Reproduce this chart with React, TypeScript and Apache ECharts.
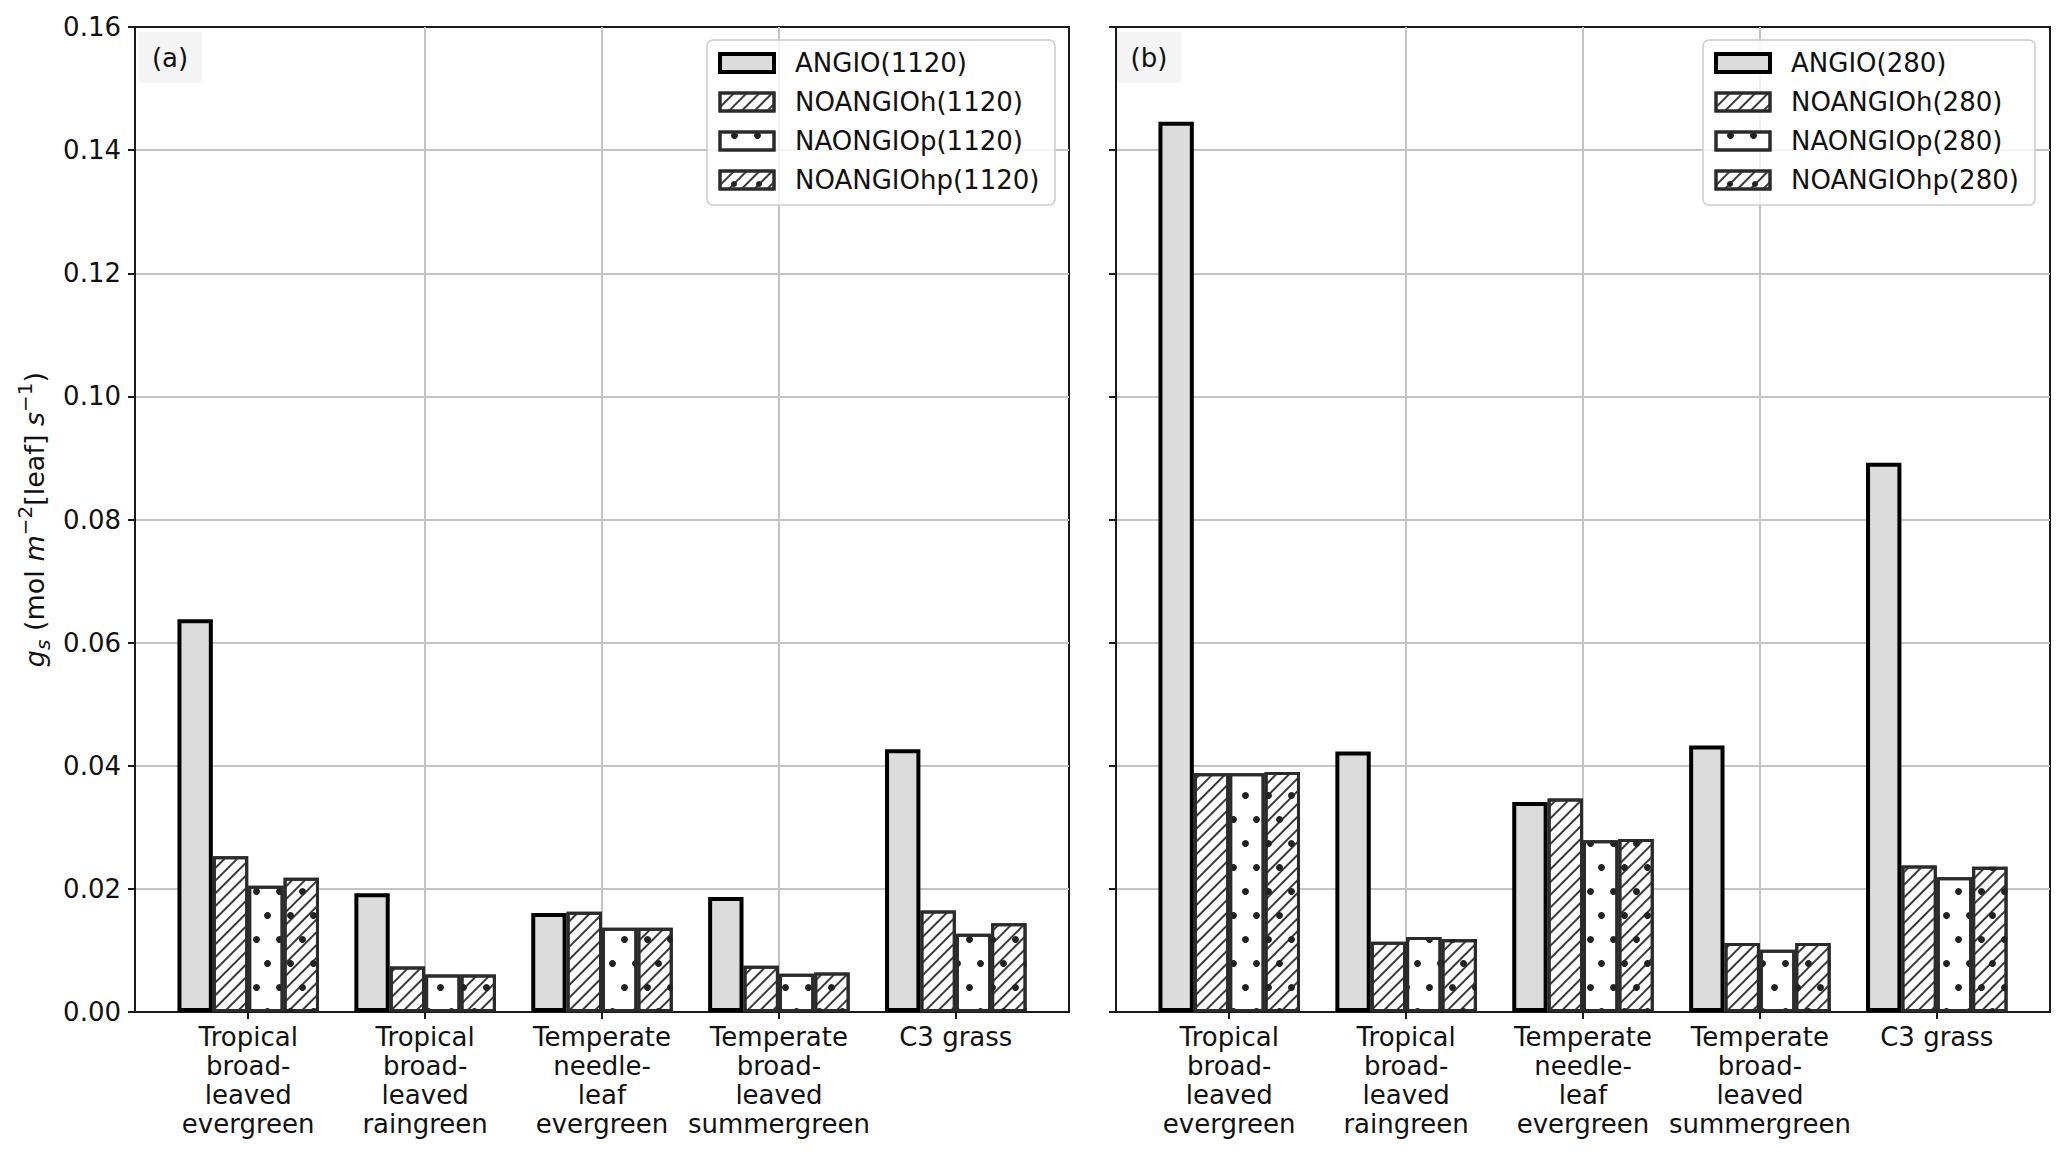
import React, { useEffect, useRef } from 'react';
import * as echarts from 'echarts';

// ---------- data ----------
const categories = [
  'Tropical\nbroad-\nleaved\nevergreen',
  'Tropical\nbroad-\nleaved\nraingreen',
  'Temperate\nneedle-\nleaf\nevergreen',
  'Temperate\nbroad-\nleaved\nsummergreen',
  'C3 grass',
];
const categoryPositions = [0, 1, 2, 3, 4];

const seriesNamesA = ['ANGIO(1120)', 'NOANGIOh(1120)', 'NAONGIOp(1120)', 'NOANGIOhp(1120)'];
const seriesNamesB = ['ANGIO(280)', 'NOANGIOh(280)', 'NAONGIOp(280)', 'NOANGIOhp(280)'];

// panel (a) — 1120 ppm
const angioA = [0.0638, 0.0193, 0.0161, 0.0187, 0.0427];
const hA = [0.0253, 0.0074, 0.0163, 0.0075, 0.0165];
const pA = [0.0205, 0.0061, 0.0137, 0.0062, 0.0127];
const hpA = [0.0218, 0.0061, 0.0137, 0.0064, 0.0144];

// panel (b) — 280 ppm
const angioB = [0.1446, 0.0423, 0.0341, 0.0433, 0.0892];
const hB = [0.0388, 0.0114, 0.0347, 0.0112, 0.0238];
const pB = [0.0388, 0.0122, 0.0279, 0.0101, 0.0219];
const hpB = [0.039, 0.0118, 0.0281, 0.0112, 0.0236];

const yMin = 0;
const yMax = 0.16;
const yStep = 0.02;

// ---------- styles ----------
const FONT = 'DejaVu Sans';
const FRAME = '#1a1a1a';
const GRIDLINE = '#c4c4c4';

const hatchDecal = {
  symbol: 'rect',
  symbolSize: 1,
  dashArrayX: [1, 0],
  dashArrayY: [2, 7],
  rotation: -Math.PI / 4,
  color: '#3a3a3a',
};
const dotDecal = {
  symbol: 'circle',
  symbolSize: 1,
  dashArrayX: [[7, 16], [0, 11, 7, 5]],
  dashArrayY: [7, 17],
  rotation: 0,
  color: '#222',
};

const angioStyle = { color: '#dcdcdc', borderColor: '#000', borderWidth: 4 };
const hStyle = { color: '#fff', borderColor: '#2b2b2b', borderWidth: 3, decal: hatchDecal };
const pStyle = { color: '#fff', borderColor: '#2b2b2b', borderWidth: 3, decal: dotDecal };
const hpStyle = { color: '#fff', borderColor: '#2b2b2b', borderWidth: 3, decal: hatchDecal };
const ghostStyle = { color: 'rgba(0,0,0,0)', borderWidth: 0 };
const hpDotsStyle = { color: 'rgba(0,0,0,0)', borderWidth: 0, decal: dotDecal };

const grids = [
  { left: 135, top: 27, width: 934, height: 985 },
  { left: 1116, top: 27, width: 934, height: 985 },
];

function bar(name: string, values: number[], axisIdx: number, yIdx: number, itemStyle: any, z = 2) {
  return {
    type: 'bar',
    name,
    xAxisIndex: axisIdx,
    yAxisIndex: yIdx,
    barWidth: '20%',
    barGap: '0%',
    z,
    silent: true,
    emphasis: { disabled: true },
    itemStyle,
    data: values.map((v, i) => [categoryPositions[i], v]),
  };
}

function xAxis(gridIndex: number, visible: boolean) {
  return {
    type: 'value',
    gridIndex,
    min: -0.64,
    max: 4.64,
    show: visible,
    axisLine: { show: true, onZero: false, lineStyle: { color: FRAME, width: 2 } },
    axisTick: {
      show: true,
      customValues: categoryPositions,
      length: 7,
      lineStyle: { color: FRAME, width: 2 },
    },
    axisLabel: {
      customValues: categoryPositions,
      formatter: (v: number) => {
        const i = categoryPositions.indexOf(v);
        return i >= 0 ? categories[i] : '';
      },
      fontSize: 26,
      lineHeight: 29,
      color: '#111',
      fontFamily: FONT,
      margin: 10,
    },
    splitLine: {
      show: visible,
      showMinLine: false,
      showMaxLine: false,
      lineStyle: { color: GRIDLINE, width: 2 },
    },
  };
}

function yAxis(gridIndex: number) {
  const ax: any = {
    type: 'value',
    gridIndex,
    min: yMin,
    max: yMax,
    interval: yStep,
    axisLine: { show: true, onZero: false, lineStyle: { color: FRAME, width: 2 } },
    axisTick: { show: true, length: 7, lineStyle: { color: FRAME, width: 2 } },
    axisLabel: {
      show: gridIndex === 0,
      formatter: (v: number) => v.toFixed(2),
      fontSize: 26,
      color: '#111',
      fontFamily: FONT,
      margin: 14,
    },
    splitLine: {
      show: true,
      showMinLine: false,
      showMaxLine: false,
      lineStyle: { color: GRIDLINE, width: 2 },
    },
  };
  if (gridIndex === 0) {
    ax.name = '{it|g}{sub|s} (mol {it|m}{sup|−2}[leaf] {it|s}{sup|−1})';
    ax.nameLocation = 'middle';
    ax.nameRotate = 90;
    ax.nameGap = 82;
    ax.nameMoveOverlap = false;
    ax.nameTextStyle = {
      fontSize: 27,
      fontFamily: FONT,
      color: '#111',
      lineHeight: 38,
      rich: {
        it: { fontSize: 27, fontStyle: 'italic', fontFamily: FONT, color: '#111', lineHeight: 38 },
        sub: { fontSize: 20, fontStyle: 'italic', fontFamily: FONT, color: '#111', verticalAlign: 'bottom', lineHeight: 24 },
        sup: { fontSize: 20, fontFamily: FONT, color: '#111', verticalAlign: 'top', lineHeight: 24 },
      },
    };
  }
  return ax;
}

function legend(names: string[], left: number) {
  return {
    left,
    top: 50,
    orient: 'vertical',
    icon: 'rect',
    itemWidth: 54,
    itemHeight: 18,
    itemGap: 13,
    padding: 0,
    z: 20,
    selectedMode: false,
    textStyle: { fontSize: 26, fontFamily: FONT, color: '#111', padding: [0, 0, 0, 16] },
    data: names.map((n, i) => ({
      name: n,
      itemStyle: i === 0 ? { borderWidth: 4, borderColor: '#000' } : { borderWidth: 3, borderColor: '#2b2b2b' },
    })),
  };
}

// small dots completing the hatched+dotted legend swatch
function legendDots(xs: number[], y: number) {
  return xs.map((x) => ({
    type: 'circle',
    z: 30,
    shape: { cx: x, cy: y, r: 3 },
    style: { fill: '#222' },
  }));
}

function buildOption() {
  return {
    animation: false,
    backgroundColor: '#fff',
    textStyle: { fontFamily: FONT },
    grid: grids.map((g) => ({
      ...g,
      show: true,
      borderColor: FRAME,
      borderWidth: 2,
      backgroundColor: 'transparent',
      outerBoundsMode: 'none',
      containLabel: false,
    })),
    xAxis: [xAxis(0, true), xAxis(1, true), xAxis(0, false), xAxis(1, false)],
    yAxis: [yAxis(0), yAxis(1)],
    legend: [legend(seriesNamesA, 718), legend(seriesNamesB, 1714)],
    graphic: [
      {
        type: 'rect',
        z: 5,
        shape: { x: 707, y: 40, width: 348, height: 165, r: 6 },
        style: { fill: 'rgba(255,255,255,0.8)', stroke: '#cccccc', lineWidth: 1.5 },
      },
      {
        type: 'rect',
        z: 5,
        shape: { x: 1703, y: 40, width: 332, height: 165, r: 6 },
        style: { fill: 'rgba(255,255,255,0.8)', stroke: '#cccccc', lineWidth: 1.5 },
      },
      { type: 'rect', z: 5, shape: { x: 139, y: 32, width: 63, height: 51 }, style: { fill: '#f5f5f5' } },
      { type: 'rect', z: 5, shape: { x: 1117, y: 32, width: 64, height: 51 }, style: { fill: '#f5f5f5' } },
      {
        type: 'text',
        z: 6,
        x: 170,
        y: 58,
        style: { text: '(a)', fontSize: 26, fontFamily: FONT, fill: '#111', align: 'center', verticalAlign: 'middle' },
      },
      {
        type: 'text',
        z: 6,
        x: 1149,
        y: 58,
        style: { text: '(b)', fontSize: 26, fontFamily: FONT, fill: '#111', align: 'center', verticalAlign: 'middle' },
      },
      ...legendDots([734, 759], 184),
      ...legendDots([1730, 1755], 184),
    ],
    series: [
      bar(seriesNamesA[0], angioA, 0, 0, angioStyle),
      bar(seriesNamesA[1], hA, 0, 0, hStyle),
      bar(seriesNamesA[2], pA, 0, 0, pStyle),
      bar(seriesNamesA[3], hpA, 0, 0, hpStyle),
      bar(seriesNamesB[0], angioB, 1, 1, angioStyle),
      bar(seriesNamesB[1], hB, 1, 1, hStyle),
      bar(seriesNamesB[2], pB, 1, 1, pStyle),
      bar(seriesNamesB[3], hpB, 1, 1, hpStyle),
      // dot overlay for the hatched+dotted series (placeholders keep the slot layout)
      bar('_ga1', angioA, 2, 0, ghostStyle, 3),
      bar('_ga2', hA, 2, 0, ghostStyle, 3),
      bar('_ga3', pA, 2, 0, ghostStyle, 3),
      bar('_gadots', hpA, 2, 0, hpDotsStyle, 3),
      bar('_gb1', angioB, 3, 1, ghostStyle, 3),
      bar('_gb2', hB, 3, 1, ghostStyle, 3),
      bar('_gb3', pB, 3, 1, ghostStyle, 3),
      bar('_gbdots', hpB, 3, 1, hpDotsStyle, 3),
    ],
  };
}

export default function App() {
  const ref = useRef<HTMLDivElement>(null);
  useEffect(() => {
    if (!ref.current) return;
    const chart = echarts.init(ref.current, null, { renderer: 'svg' });
    chart.setOption(buildOption() as any);
    return () => chart.dispose();
  }, []);
  return (
    <div
      ref={ref}
      style={{ position: 'fixed', left: 0, top: 0, width: 2067, height: 1158, background: '#fff' }}
    />
  );
}
